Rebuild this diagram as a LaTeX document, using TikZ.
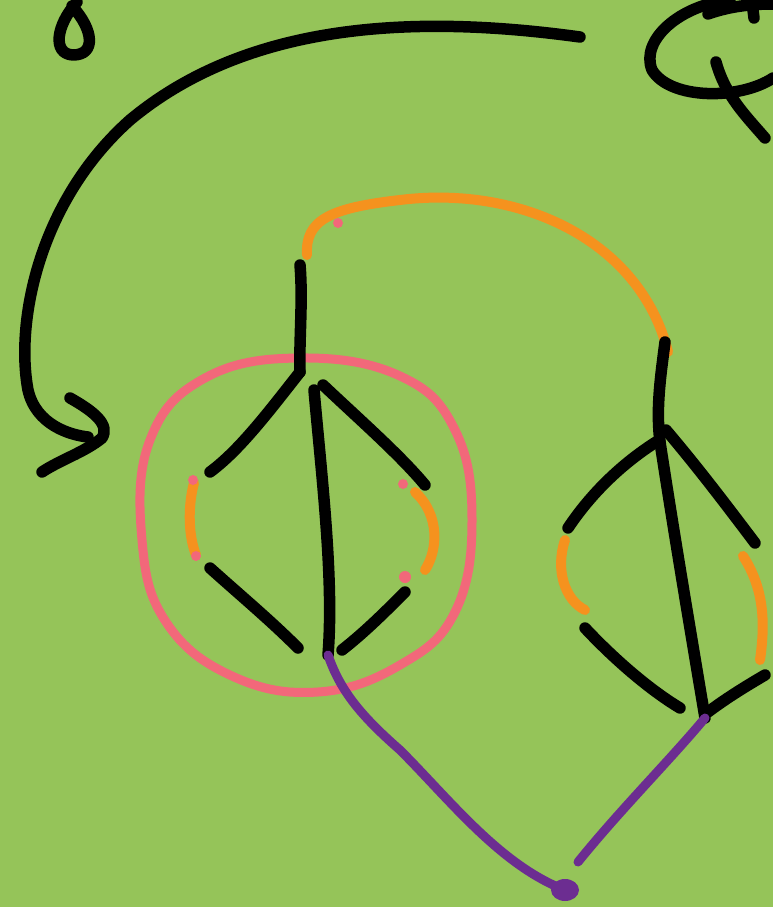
\documentclass[tikz,border=0pt]{standalone}
\usepackage{xcolor}
\usepackage{tikz}
\usetikzlibrary{calc}
\definecolor{board}{RGB}{149,196,89}
\definecolor{penorange}{RGB}{245,146,30}
\definecolor{penpink}{RGB}{242,104,122}
\definecolor{penpurple}{RGB}{108,45,145}
\tikzset{
  ink/.style={draw=black, line width=11.5pt, line cap=round, line join=round},
  glue/.style={draw=penorange, line width=10pt, line cap=round, line join=round},
  ring/.style={draw=penpink, line width=9pt, line cap=round, line join=round},
  dot/.style={fill=penpink, draw=none},
  wire/.style={draw=penpurple, line width=9pt, line cap=round, line join=round},
}

\begin{document}
\begin{tikzpicture}[x=1pt, y=-1pt]
  \useasboundingbox (0,0) rectangle (773,907);
  \fill[board] (0,0) rectangle (773,907);
  % vertices of the two trees
  \coordinate (Ltop) at (300,372);
  \coordinate (Lbot) at (328,655);
  \coordinate (Rtop) at (660,442);
  \coordinate (Rbot) at (705,718);
  \coordinate (apex) at (565,890);
  % small loop top left
  \draw[ink] (77,2) .. controls (56,25) and (52,54) .. (73,55)
             .. controls (96,55) and (94,30) .. (72,6);
  % big curved arrow
  \draw[ink] (580,37) .. controls (420,15) and (250,20) .. (130,120)
             .. controls (40,200) and (15,320) .. (28,390)
             .. controls (36,425) and (70,435) .. (88,437);
  \draw[ink] (70,398) .. controls (95,412) and (110,425) .. (102,438)
             .. controls (85,452) and (60,460) .. (42,472);
  % top right glyph
  \draw[ink] (773,78) .. controls (740,100) and (670,100) .. (652,70)
             .. controls (640,40) and (680,5) .. (730,0);
  \draw[ink] (708,14) .. controls (725,8) and (745,4) .. (773,4);
  \draw[ink] (752,2) -- (754,18);
  \draw[ink] (716,62) .. controls (725,95) and (745,115) .. (765,138);
  % orange bridge between the trees
  \draw[glue] (307,255) .. controls (305,220) and (330,208) .. (400,200)
              .. controls (520,185) and (640,240) .. (668,352);
  \fill[dot] (338,223) circle (5pt);
  % pink circle round the left tree
  \draw[ring] plot[smooth cycle, tension=0.7] coordinates {
    (300,358) (400,376) (455,430) (472,520) (455,612) (400,665)
    (318,692) (232,676) (166,622) (142,540) (150,440) (205,378)};
  % left tree
  \draw[ink] (300,265) .. controls (303,300) and (299,340) .. (Ltop);
  \draw[ink] (Ltop) .. controls (270,410) and (240,450) .. (210,472);
  \draw[ink] (323,385) .. controls (360,420) and (400,455) .. (425,485);
  \draw[ink] (314,390) .. controls (322,480) and (334,580) .. (Lbot);
  \draw[ink] (210,568) .. controls (240,595) and (270,620) .. (298,648);
  \draw[ink] (342,650) .. controls (365,632) and (385,612) .. (405,592);
  \draw[glue] (194,483) .. controls (188,505) and (188,535) .. (196,555);
  \draw[glue] (415,492) .. controls (440,515) and (438,550) .. (425,570);
  \fill[dot] (193,480) circle (5pt) (196,556) circle (5pt)
             (403,484) circle (5pt) (405,577) circle (6pt);
  % right tree
  \draw[ink] (665,342) .. controls (660,380) and (656,410) .. (Rtop);
  \draw[ink] (656,442) .. controls (620,465) and (590,495) .. (568,528);
  \draw[ink] (666,430) .. controls (700,470) and (730,510) .. (755,543);
  \draw[ink] (Rtop) .. controls (675,540) and (692,640) .. (Rbot);
  \draw[ink] (585,628) .. controls (615,660) and (650,690) .. (680,708);
  \draw[ink] (708,712) .. controls (728,697) and (748,685) .. (765,675);
  \draw[glue] (565,540) .. controls (555,570) and (565,600) .. (585,610);
  \draw[glue] (743,556) .. controls (765,590) and (765,625) .. (760,660);
  % purple legs to the apex
  \draw[wire] (Lbot) .. controls (340,690) and (360,715) .. (400,750)
              .. controls (450,800) and (500,865) .. (apex);
  \fill[penpurple] (apex) ellipse (14pt and 11pt);
  \draw[wire] (578,862) .. controls (620,810) and (670,760) .. (Rbot);
\end{tikzpicture}
\end{document}
